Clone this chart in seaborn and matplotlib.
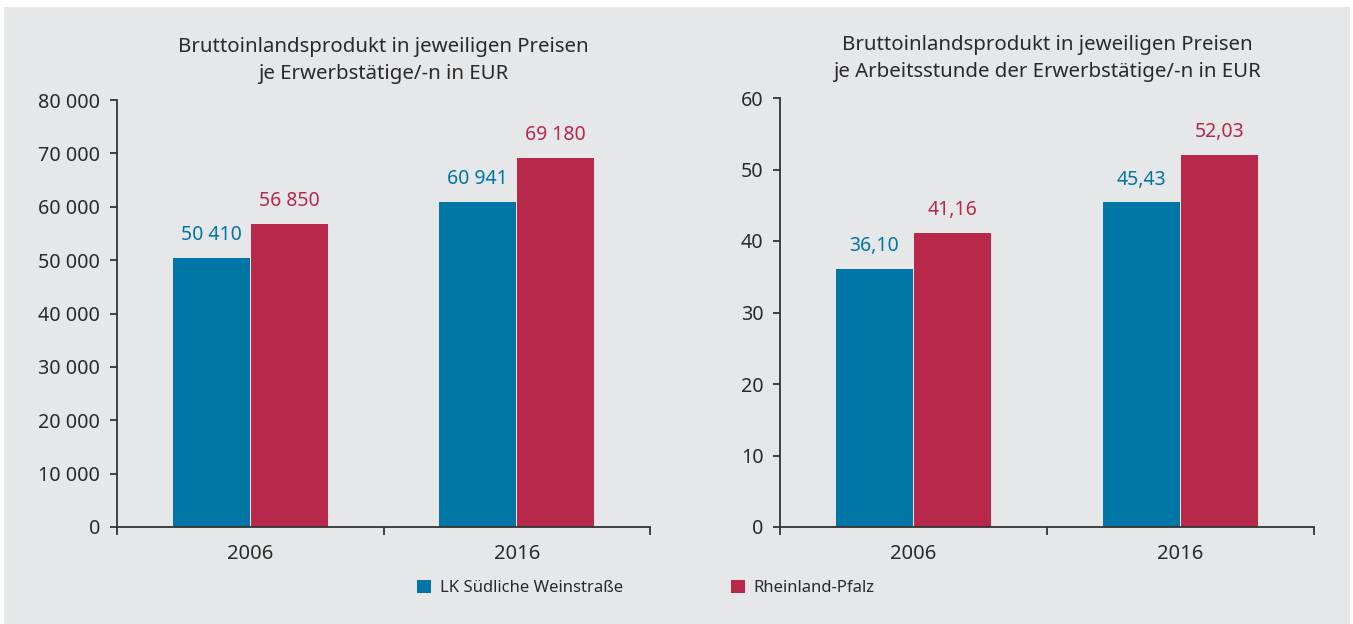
import pandas as pd
import numpy as np
import matplotlib
matplotlib.use("Agg")
import matplotlib.pyplot as plt
import matplotlib.ticker as mticker
from matplotlib.patches import Rectangle, Patch
import seaborn as sns

# Daten
jahre = ["2006", "2016"]
regionen = ["LK Südliche Weinstraße", "Rheinland-Pfalz"]
bip_erwerbstaetige = {"LK Südliche Weinstraße": [50410, 60941],
                      "Rheinland-Pfalz": [56850, 69180]}
bip_arbeitsstunde = {"LK Südliche Weinstraße": [36.10, 45.43],
                     "Rheinland-Pfalz": [41.16, 52.03]}

titel_links = "Bruttoinlandsprodukt in jeweiligen Preisen\nje Erwerbstätige/-n in EUR"
titel_rechts = "Bruttoinlandsprodukt in jeweiligen Preisen\nje Arbeitsstunde der Erwerbstätige/-n in EUR"

farben = ["#0076a6", "#b7284b"]
grau = "#e6e7e9"
textfarbe = "#2a2a2a"

sns.set_theme(style="white")
plt.rcParams['font.family'] = ['Noto Sans', 'DejaVu Sans']
plt.rcParams['text.color'] = textfarbe
plt.rcParams['axes.labelcolor'] = textfarbe
plt.rcParams['xtick.color'] = textfarbe
plt.rcParams['ytick.color'] = textfarbe


def to_df(d):
    rows = []
    for reg in regionen:
        for j, v in zip(jahre, d[reg]):
            rows.append({"Jahr": j, "Region": reg, "Wert": v})
    return pd.DataFrame(rows)


fig = plt.figure(figsize=(13.53, 6.24), dpi=100)
fig.patch.set_facecolor("white")
fig.patches.append(Rectangle((4 / 1353, 0), 1346 / 1353, 1 - 7 / 624,
                             transform=fig.transFigure, facecolor=grau,
                             edgecolor="none", zorder=-10))

ax1 = fig.add_axes([117 / 1353, 1 - 527 / 624, 533 / 1353, 427 / 624])
ax2 = fig.add_axes([780 / 1353, 1 - 527 / 624, 534 / 1353, 429 / 624])


def zeichne(ax, df, ymax, step, fmt_tick, fmt_lab, titel):
    ax.set_facecolor("none")
    sns.barplot(data=df, x="Jahr", y="Wert", hue="Region", order=jahre,
                hue_order=regionen, palette=farben, width=0.585, gap=0.015,
                saturation=1, legend=False, linewidth=0, ax=ax)
    for cont, col in zip(ax.containers, farben):
        vals = [b.get_height() for b in cont]
        ax.bar_label(cont, labels=[fmt_lab(v) for v in vals], padding=9,
                     color=col, fontsize=14)
    ax.set_xlim(-0.5, 1.5)
    ax.set_ylim(0, ymax)
    ax.set_yticks(np.arange(0, ymax + step, step))
    ax.yaxis.set_major_formatter(mticker.FuncFormatter(lambda v, p: fmt_tick(v)))
    ax.set_xlabel("")
    ax.set_ylabel("")
    ax.set_title(titel, fontsize=14.7, pad=15, linespacing=1.45, color=textfarbe)
    for s in ["top", "right"]:
        ax.spines[s].set_visible(False)
    for s in ["left", "bottom"]:
        ax.spines[s].set_color("#333333")
        ax.spines[s].set_linewidth(1.3)
    ax.tick_params(axis="y", which="major", direction="out", length=5,
                   width=1.3, color="#333333", pad=7, labelsize=14.2, left=True)
    ax.tick_params(axis="x", which="major", length=0, pad=12, labelsize=14.5)
    ax.xaxis.set_minor_locator(mticker.FixedLocator([-0.5, 0.5, 1.5]))
    ax.tick_params(axis="x", which="minor", direction="out", length=6,
                   width=1.3, color="#333333", bottom=True)


zeichne(ax1, to_df(bip_erwerbstaetige), 80000, 10000,
        lambda v: f"{int(v):,}".replace(",", " "),
        lambda v: f"{int(round(v)):,}".replace(",", " "),
        titel_links)
zeichne(ax2, to_df(bip_arbeitsstunde), 60, 10,
        lambda v: f"{int(v)}",
        lambda v: f"{v:.2f}".replace(".", ","),
        titel_rechts)

handles = [Patch(facecolor=c, edgecolor="none") for c in farben]
fig.legend(handles, regionen, loc="center left",
           bbox_to_anchor=(417 / 1353, 1 - 588 / 624), ncol=2, frameon=False,
           fontsize=12, handlelength=0.85, handleheight=0.85,
           handletextpad=0.5, columnspacing=6.5, borderpad=0,
           borderaxespad=0)

fig.savefig("out.png", dpi=100, facecolor=fig.get_facecolor())
